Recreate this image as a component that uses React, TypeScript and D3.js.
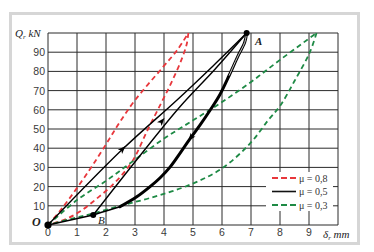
import React from "react";
import * as d3 from "d3";

const xTicks = [0, 1, 2, 3, 4, 5, 6, 7, 8, 9];
const yTicks = [10, 20, 30, 40, 50, 60, 70, 80, 90];

// mu = 0.8 (red dashed)
const red08Load: [number, number][] = [[0, 0], [0.5, 9], [1.4, 28], [2.0, 42], [2.45, 53], [3.0, 65], [3.95, 82], [4.45, 91], [4.84, 100]];
const red08Unload: [number, number][] = [[4.84, 100], [4.78, 94], [4.6, 86], [4.25, 74], [3.92, 64], [3.45, 50], [2.9, 33], [2.3, 22], [1.7, 14], [1.1, 7], [0.6, 3], [0, 0]];
// mu = 0.3 (green dashed)
const green03Load: [number, number][] = [[0, 0], [1.0, 13], [2.0, 23], [3.0, 34], [4.0, 45], [5.0, 54.5], [6.0, 64], [7.0, 74.5], [8.0, 86], [9.26, 100]];
const green03Unload: [number, number][] = [[9.26, 100], [9.03, 90], [8.5, 75], [8.0, 62], [7.6, 54.7], [6.97, 42.5], [6.0, 29.5], [4.9, 21], [3.5, 14], [2.48, 10], [1.56, 6], [0.8, 3.2], [0, 0]];
// mu = 0.5 (black)
const blackLoadOA: [number, number][] = [[0, 0], [2.54, 39], [4.44, 65], [5.7, 83], [6.85, 100]];
const blackReloadBA: [number, number][] = [[1.56, 5.2], [3.06, 34], [4.55, 61.6], [5.75, 81], [6.85, 100]];
const blackUnloadAB: [number, number][] = [[6.85, 100], [6.78, 95], [6.55, 88], [6.25, 78], [5.93, 68], [5.6, 60], [5.24, 52], [4.9, 45], [4.2, 30], [3.86, 24.5], [3.52, 20], [3.06, 14.7], [2.48, 9.5]];
const blackUnloadTail: [number, number][] = [[2.48, 9.5], [2.0, 7.3], [1.56, 5.2]];
const blackOB: [number, number][] = [[0, 0], [1.56, 5.2]];

const pointO: [number, number] = [0, 0];
const pointA: [number, number] = [6.85, 100];
const pointB: [number, number] = [1.56, 5.2];

const legendLabels = ["μ = 0,8", "μ = 0,5", "μ = 0,3"];
const legendColors = ["#e8373c", "#111111", "#1e8a45"];

const RED = "#e8373c";
const GREEN = "#1e8a45";

export default function App() {
  const x = d3.scaleLinear().domain([0, 10]).range([48, 338]);
  const y = d3.scaleLinear().domain([0, 100]).range([225, 33]);
  const line = d3
    .line<[number, number]>()
    .x((d) => x(d[0]))
    .y((d) => y(d[1]))
    .curve(d3.curveCatmullRom.alpha(0.5));
  const straight = d3
    .line<[number, number]>()
    .x((d) => x(d[0]))
    .y((d) => y(d[1]));

  const arrow = (p: [number, number], q: [number, number], key: string) => {
    const x1 = x(p[0]), y1 = y(p[1]), x2 = x(q[0]), y2 = y(q[1]);
    const ang = (Math.atan2(y2 - y1, x2 - x1) * 180) / Math.PI;
    return (
      <path
        key={key}
        d="M3,0 L-5,-3 L-3,0 L-5,3 Z"
        fill="#000"
        transform={`translate(${x2},${y2}) rotate(${ang})`}
      />
    );
  };

  const legX = 266, legY = 172;
  return (
    <svg
      width={374}
      height={252}
      style={{ position: "absolute", left: 0, top: 0, background: "#fff" }}
    >
      <rect x={10.5} y={13.5} width={348} height={230} fill="#fff" stroke="#d6d6d6" strokeWidth={3} />
      {/* grid */}
      <g stroke="#2a2a2a" strokeWidth={1}>
        {d3.range(0, 11).map((v) => (
          <line key={"gx" + v} x1={x(v)} x2={x(v)} y1={y(0)} y2={y(100)} />
        ))}
        {d3.range(0, 11).map((v) => (
          <line key={"gy" + v} x1={x(0)} x2={x(10)} y1={y(v * 10)} y2={y(v * 10)} />
        ))}
      </g>
      {/* tick labels */}
      <g fontFamily="Liberation Sans, Arial, sans-serif" fontSize={10.5} fill="#3a3a3a">
        {yTicks.map((v) => (
          <text key={"yt" + v} x={45} y={y(v) + 4} textAnchor="end">
            {v}
          </text>
        ))}
        {xTicks.map((v) => (
          <text key={"xt" + v} x={x(v)} y={236} textAnchor="middle">
            {v}
          </text>
        ))}
      </g>
      {/* legend box */}
      <rect x={legX} y={legY} width={67} height={39} fill="#fff" />
      {/* red */}
      <g fill="none" stroke={RED} strokeWidth={1.8} strokeDasharray="5,3.5">
        <path d={line(red08Load) || ""} />
        <path d={line(red08Unload) || ""} />
      </g>
      {/* green */}
      <g fill="none" stroke={GREEN} strokeWidth={1.8} strokeDasharray="5,3.5">
        <path d={line(green03Load) || ""} />
        <path d={line(green03Unload) || ""} />
      </g>
      {/* black */}
      <g fill="none" stroke="#000" strokeLinecap="round">
        <path d={line(blackLoadOA) || ""} strokeWidth={1.4} />
        <path d={line(blackReloadBA) || ""} strokeWidth={1.4} />
        <path d={line(blackUnloadAB) || ""} strokeWidth={3} />
        <path d={line(blackUnloadAB.slice(0, 4)) || ""} strokeWidth={0.8} stroke="#fff" />
        <path d={line(blackUnloadTail) || ""} strokeWidth={1.6} />
        <path d={straight(blackOB) || ""} strokeWidth={1.4} />
      </g>
      {arrow([2.3, 35.3], [2.6, 40], "a1")}
      {arrow([3.7, 50], [3.95, 54.5], "a2")}
      {arrow([5.1, 49], [4.9, 45], "a3")}
      <circle cx={x(pointO[0])} cy={y(pointO[1])} r={3.6} fill="#000" />
      <circle cx={x(pointA[0])} cy={y(pointA[1])} r={3} fill="#000" />
      <circle cx={x(pointB[0])} cy={y(pointB[1])} r={3} fill="#000" />
      <g fontFamily="Liberation Serif, Times New Roman, serif" fontStyle="italic" fontWeight="bold" fill="#222">
        <text x={32} y={226} fontSize={12}>O</text>
        <text x={255} y={45} fontSize={11}>A</text>
        <text x={98} y={224} fontSize={11} fontWeight="normal">B</text>
      </g>
      {/* axis titles */}
      <g fontFamily="Liberation Serif, Times New Roman, serif" fontStyle="italic" fill="#222" fontSize={11}>
        <text x={15} y={37}>
          Q<tspan fontSize={7} dy={2}>r</tspan>
          <tspan dy={-2}> kN</tspan>
        </text>
        <text x={323} y={238}>
          δ<tspan fontSize={7} dy={2}>r</tspan>
          <tspan dy={-2}> mm</tspan>
        </text>
      </g>
      {/* legend entries */}
      {legendLabels.map((lab, i) => (
        <g key={"lg" + i}>
          <line
            x1={272}
            x2={296}
            y1={178 + i * 13.5}
            y2={178 + i * 13.5}
            stroke={legendColors[i]}
            strokeWidth={i === 1 ? 1.6 : 1.8}
            strokeDasharray={i === 1 ? undefined : "6,3"}
          />
          <text
            x={299}
            y={181.5 + i * 13.5}
            fontFamily="Liberation Serif, Times New Roman, serif"
            fontSize={10}
            fill="#333"
          >
            {lab}
          </text>
        </g>
      ))}
    </svg>
  );
}
